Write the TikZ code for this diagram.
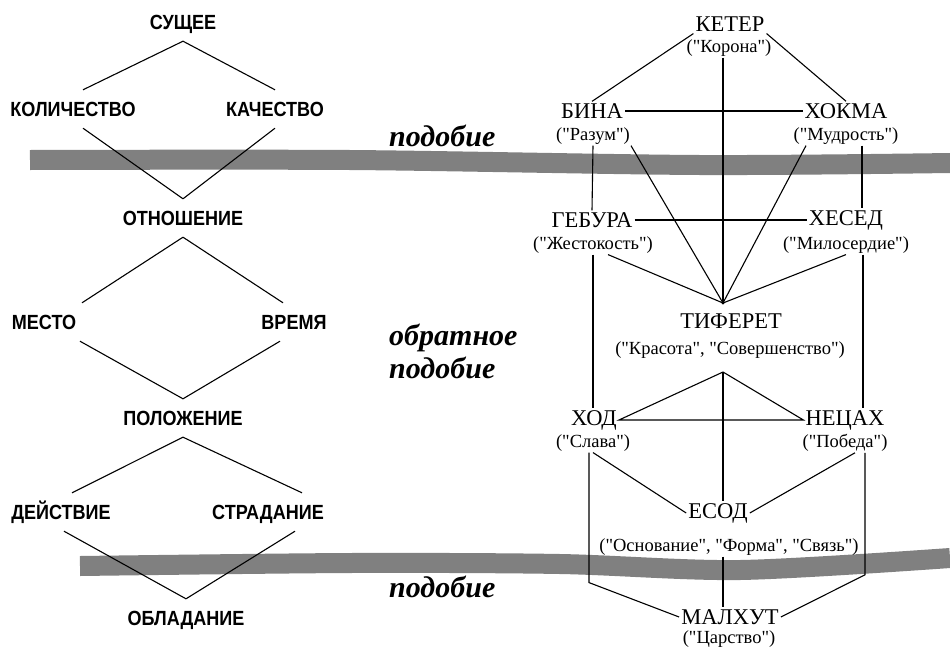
\documentclass[tikz,border=0pt]{standalone}
\usepackage{fontspec}
\setmainfont{Liberation Serif}[Ligatures=TeXOff]
\newfontfamily\catfont{Liberation Sans}[FakeStretch=0.88]
\usepackage{tikz}
\usetikzlibrary{positioning}
\definecolor{bandgray}{RGB}{128,128,128}

\begin{document}
\begin{tikzpicture}[
  x=1pt,y=-1pt,
  cat/.style={inner sep=0pt,minimum height=38pt,text height=14pt,text depth=0pt,font=\catfont\bfseries\fontsize{20.5}{22}\selectfont},
  sefira/.style={inner sep=2pt,font=\fontsize{22.5}{24}\selectfont},
  gloss/.style={inner sep=1pt,font=\fontsize{18.5}{20}\selectfont},
  motto/.style={anchor=west,align=left,inner sep=0pt,font=\bfseries\itshape\fontsize{30}{33}\selectfont},
  link/.style={line width=1.1pt},
  band/.style={draw=bandgray,line width=20pt}
]
\useasboundingbox (0,0) rectangle (950,648);

\draw[band] plot[smooth] coordinates {(30,160) (350,160) (700,165) (950,163)};
\draw[band] plot[smooth] coordinates {(80,566) (350,563) (560,564) (740,570) (950,558)};

\node[cat] (sushee) at (183,22) {СУЩЕЕ};
\node[cat] (kolich) at (73,109) {КОЛИЧЕСТВО};
\node[cat] (kachest) at (275,109) {КАЧЕСТВО};
\node[cat] (otnosh) at (183,218) {ОТНОШЕНИЕ};
\node[cat] (mesto) at (44,322) {МЕСТО};
\node[cat] (vremya) at (294,322) {ВРЕМЯ};
\node[cat] (polozh) at (183,418) {ПОЛОЖЕНИЕ};
\node[cat] (deistv) at (61,512) {ДЕЙСТВИЕ};
\node[cat] (strad) at (268,512) {СТРАДАНИЕ};
\node[cat] (oblad) at (186,618) {ОБЛАДАНИЕ};

\draw[link] (sushee.south) -- ([xshift=10pt]kolich.north);
\draw[link] (sushee.south) -- (kachest.north);
\draw[link] ([xshift=10pt]kolich.south) -- (otnosh.north);
\draw[link] (kachest.south) -- (otnosh.north);
\draw[link] (otnosh.south) -- ([xshift=38pt]mesto.north);
\draw[link] (otnosh.south) -- ([xshift=-11pt]vremya.north);
\draw[link] ([xshift=36pt]mesto.south) -- (polozh.north);
\draw[link] ([xshift=-14pt]vremya.south) -- (polozh.north);
\draw[link] (polozh.south) -- ([xshift=11pt]deistv.north);
\draw[link] (polozh.south) -- ([xshift=34pt]strad.north);
\draw[link] ([xshift=3pt]deistv.south) -- (oblad.north);
\draw[link] ([xshift=27pt]strad.south) -- (oblad.north);

\node[motto] (like1) at (389,136) {подобие};
\node[motto] (unlike) at (389,351) {обратное\\подобие};
\node[motto] (like2) at (389,587) {подобие};

\node[sefira] (keter) at (730,24) {КЕТЕР};
\node[gloss] (keterS) at (729,48) {("Корона")};
\node[sefira] (bina) at (592,111) {БИНА};
\node[gloss] (binaS) at (593,136) {("Разум")};
\node[sefira] (hokma) at (846,111) {ХОКМА};
\node[gloss] (hokmaS) at (846,136) {("Мудрость")};
\node[sefira] (gebura) at (592,220) {ГЕБУРА};
\node[gloss] (geburaS) at (593,245) {("Жестокость")};
\node[sefira] (hesed) at (846,220) {ХЕСЕД};
\node[gloss] (hesedS) at (846,245) {("Милосердие")};
\node[sefira] (tif) at (731,321) {ТИФЕРЕТ};
\node[gloss] (tifS) at (730,350) {("Красота", "Совершенство")};
\node[sefira] (hod) at (594,420) {ХОД};
\node[gloss] (hodS) at (593,443) {("Слава")};
\node[sefira] (netsah) at (845,420) {НЕЦАХ};
\node[gloss] (netsahS) at (845,443) {("Победа")};
\node[sefira] (yesod) at (718,513) {ЕСОД};
\node[gloss] (yesodS) at (729,547) {("Основание", "Форма", "Связь")};
\node[sefira] (malhut) at (730,617) {МАЛХУТ};
\node[gloss] (malhutS) at (729,639) {("Царство")};

\coordinate (tp) at (723,303);
\coordinate (ta) at (723,372);
\fill (tp) circle (1.6pt);

\draw[link] (keter.south west) -- (bina.north);
\draw[link] (keter.south east) -- (hokma.north);
\draw[link] (tp |- keterS.south) -- (tp);
\draw[link] (bina.east) -- (hokma.west);
\draw[link] (binaS.south) -- (gebura.north);
\draw[link] (binaS.south east) -- (tp);
\draw[link] ([xshift=-40pt]hokmaS.south) -- (tp);
\draw[link] ([xshift=16pt]hokmaS.south) -- ([xshift=16pt]hokmaS.south |- hesed.north);
\draw[link] (gebura.east) -- (hesed.west);
\draw[link] ([xshift=15pt]geburaS.south) -- (tp);
\draw[link] (hesedS.south) -- (tp);
\draw[link] (geburaS.south) -- (geburaS.south |- hod.north);
\draw[link] ([xshift=17pt]hesedS.south) -- ([xshift=17pt]hesedS.south |- netsah.north);
\draw[link] (ta) -- (hod.east) -- (netsah.west) -- cycle;
\draw[link] (ta) -- (ta |- yesod.north);
\draw[link] (hodS.south) -- (yesod.west);
\draw[link] ([xshift=10pt]netsahS.south) -- (yesod.east);
\draw[link] (ta |- yesodS.south) -- (ta |- malhut.north);
\draw[link] ([xshift=-4pt]hodS.south) -- ++(0,130) -- (malhut.west);
\draw[link] ([xshift=20pt]netsahS.south) -- ++(0,122) -- (malhut.east);
\end{tikzpicture}
\end{document}
